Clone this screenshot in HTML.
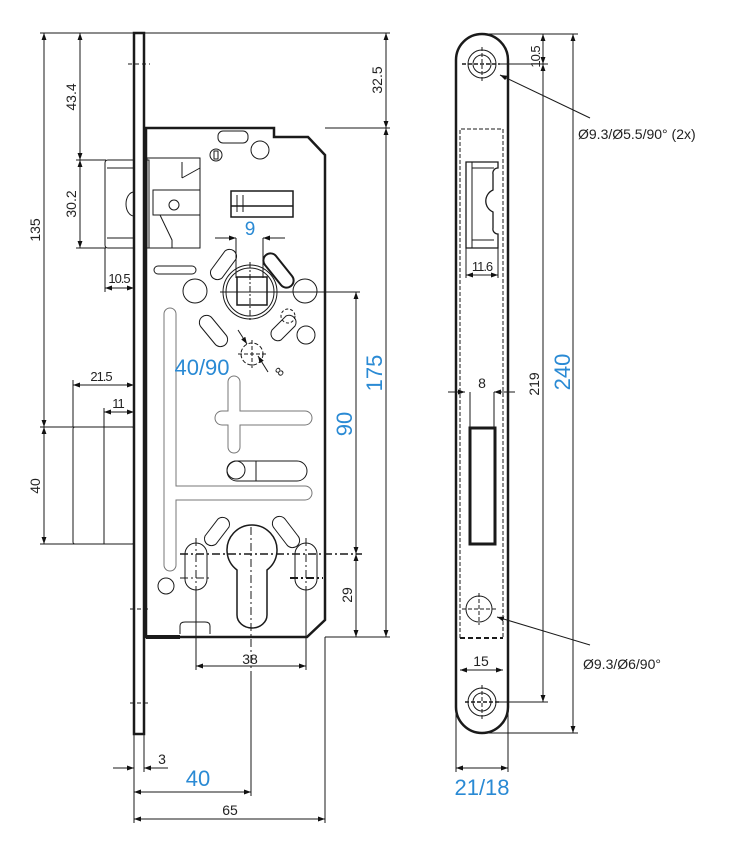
<!DOCTYPE html>
<html><head><meta charset="utf-8"><style>
html,body{margin:0;padding:0;background:#fff}
svg{display:block}
text{font-family:"Liberation Sans",sans-serif;fill:#222}
.b{fill:#2a8ad4}
</style></head><body>
<svg width="735" height="847" viewBox="0 0 735 847" xmlns="http://www.w3.org/2000/svg">
<defs>
<marker id="a" viewBox="0 0 10 10" refX="10" refY="5" markerWidth="7" markerHeight="7" orient="auto-start-reverse"><path d="M0,1.5 L10,5 L0,8.5z" fill="#111"/></marker>
</defs>
<g stroke="#1a1a1a" fill="none" stroke-width="1">
<line x1="40" y1="33" x2="390" y2="33"/>
<line x1="40" y1="427" x2="134" y2="427"/>
<line x1="40" y1="544" x2="134" y2="544"/>
<line x1="76" y1="160" x2="106" y2="160"/>
<line x1="76" y1="248" x2="106" y2="248"/>
<line x1="325" y1="128" x2="390" y2="128"/>
<line x1="325" y1="637" x2="390" y2="637"/>
<line x1="220" y1="292" x2="360" y2="292"/>
<line x1="105" y1="248" x2="105" y2="292"/>
<line x1="73" y1="380" x2="73" y2="427"/>
<line x1="104" y1="408" x2="104" y2="427"/>
<line x1="134" y1="734" x2="134" y2="823"/>
<line x1="144" y1="734" x2="144" y2="772"/>
<line x1="251" y1="673" x2="251" y2="796"/>
<line x1="325" y1="637" x2="325" y2="823"/>
<line x1="196" y1="590" x2="196" y2="670"/>
<line x1="306" y1="590" x2="306" y2="670"/>
<line x1="44" y1="33" x2="44" y2="427" marker-start="url(#a)" marker-end="url(#a)"/>
<line x1="44" y1="427" x2="44" y2="544" marker-start="url(#a)" marker-end="url(#a)"/>
<line x1="80" y1="33" x2="80" y2="160" marker-start="url(#a)" marker-end="url(#a)"/>
<line x1="80" y1="160" x2="80" y2="248" marker-start="url(#a)" marker-end="url(#a)"/>
<line x1="105" y1="288" x2="134" y2="288" marker-start="url(#a)" marker-end="url(#a)"/>
<line x1="73" y1="385" x2="134" y2="385" marker-start="url(#a)" marker-end="url(#a)"/>
<line x1="104" y1="412" x2="134" y2="412" marker-start="url(#a)" marker-end="url(#a)"/>
<line x1="386" y1="33" x2="386" y2="128" marker-start="url(#a)" marker-end="url(#a)"/>
<line x1="386" y1="128" x2="386" y2="637" marker-start="url(#a)" marker-end="url(#a)"/>
<line x1="356" y1="292" x2="356" y2="554" marker-start="url(#a)" marker-end="url(#a)"/>
<line x1="356" y1="554" x2="356" y2="637" marker-start="url(#a)" marker-end="url(#a)"/>
<line x1="196" y1="666" x2="306" y2="666" marker-start="url(#a)" marker-end="url(#a)"/>
<line x1="113" y1="768" x2="134" y2="768" marker-end="url(#a)"/>
<line x1="168" y1="768" x2="144" y2="768" marker-end="url(#a)"/>
<line x1="134" y1="792" x2="251" y2="792" marker-start="url(#a)" marker-end="url(#a)"/>
<line x1="134" y1="819" x2="325" y2="819" marker-start="url(#a)" marker-end="url(#a)"/>
<line x1="215" y1="238" x2="236" y2="238" marker-end="url(#a)"/>
<line x1="285" y1="238" x2="263" y2="238" marker-end="url(#a)"/>
<line x1="236" y1="238" x2="236" y2="278"/><line x1="263" y1="238" x2="263" y2="278"/>
<line x1="238" y1="330" x2="247" y2="344" marker-end="url(#a)"/>
<line x1="268" y1="372" x2="258" y2="356" marker-end="url(#a)"/>
<rect x="134" y="33" width="10" height="701" stroke-width="2.5"/>
<line x1="128" y1="64" x2="150" y2="64" stroke-dasharray="4,3"/>
<line x1="130" y1="609" x2="150" y2="609" stroke-dasharray="4,3"/>
<line x1="130" y1="703" x2="150" y2="703" stroke-dasharray="4,3"/>
<path d="M146,128 H274 V137 H308 L325,155 V620 L307,637 H146 Z" stroke-width="2.5"/>
<line x1="146" y1="637" x2="180" y2="637" stroke-width="4"/>
<path d="M105,163 q0,-3 3,-3 H134 V248 H108 q-3,0 -3,-3 Z"/>
<line x1="107" y1="168" x2="133" y2="168"/><line x1="107" y1="238" x2="133" y2="238"/>
<path d="M134,192 a8,12 0 0 0 0,24"/>
<rect x="147" y="158" width="53" height="90"/>
<rect x="145" y="160" width="4" height="88"/>
<path d="M182,178 L200,168 M182,178 V162"/>
<rect x="153" y="190" width="47" height="25"/>
<path d="M160,215 L172,240 V248"/>
<circle cx="174" cy="205" r="5"/>
<rect x="73" y="427" width="61" height="117" rx="2"/>
<line x1="104" y1="427" x2="104" y2="544"/>
<rect x="218" y="131" width="30" height="12" rx="5"/>
<circle cx="216" cy="155" r="6"/><rect x="214" y="151" width="4" height="8"/>
<circle cx="260" cy="150" r="9"/>
<rect x="231" y="191" width="62" height="26" stroke-width="1.5"/>
<line x1="231" y1="206" x2="293" y2="206" stroke-width="1.5"/>
<line x1="237" y1="195" x2="237" y2="212"/><line x1="243" y1="195" x2="243" y2="212"/>
<rect x="154" y="266" width="42" height="8" rx="4"/>
<circle cx="250" cy="292" r="27"/><circle cx="250" cy="292" r="24"/>
<rect x="237" y="277" width="30" height="28" stroke-width="1.5"/>
<line x1="250" y1="262" x2="250" y2="322" stroke-dasharray="6,2,2,2"/>
<circle cx="195" cy="291" r="12"/><circle cx="305" cy="291" r="12"/>
<circle cx="306" cy="335" r="9"/>
<circle cx="288" cy="316" r="7" stroke-dasharray="3,2"/>
<path d="M211,270 l14,-19 a7,7 0 0 1 11,8 l-14,19 a7,7 0 0 1 -11,-8z"/>
<path d="M276,256 l16,20 a7,7 0 0 1 -11,9 l-16,-20 a7,7 0 0 1 11,-9z" stroke-width="2"/>
<path d="M212,318 l14,17 a7,7 0 0 1 -11,9 l-14,-17 a7,7 0 0 1 11,-9z"/>
<path d="M272,330 l14,-14 a7,7 0 0 1 9,10 l-14,14 a7,7 0 0 1 -9,-10z"/>
<circle cx="252" cy="354" r="11" stroke-dasharray="4,2"/>
<line x1="238" y1="354" x2="266" y2="354" stroke-dasharray="4,2"/><line x1="252" y1="340" x2="252" y2="368" stroke-dasharray="4,2"/>
<path d="M170,308 a6,6 0 0 0 -6,6 V565 a6,6 0 0 0 12,0 V500 H305 a7,7 0 0 0 0,-14 H176 V314 a6,6 0 0 0 -6,-6z" stroke="#777"/>
<path d="M228,382 V411 H222 a6,6 0 0 0 0,14 H228 V447 a6,6 0 0 0 12,0 V425 H305 a7,7 0 0 0 0,-14 H240 V382 a6,6 0 0 0 -12,0z" stroke="#777"/>
<path d="M237,461 H297 a10,10 0 0 1 0,20 H237 a10,10 0 0 1 0,-20z"/>
<circle cx="236" cy="470" r="9"/><line x1="256" y1="461" x2="256" y2="481"/>
<path d="M205,536 l13,-17 a7,7 0 0 1 11,8 l-13,17 a7,7 0 0 1 -11,-8z"/>
<path d="M285,519 l13,17 a7,7 0 0 1 -11,9 l-13,-17 a7,7 0 0 1 11,-9z"/>
<circle cx="166" cy="586" r="8"/>
<rect x="185" y="543" width="22" height="47" rx="11"/>
<rect x="295" y="543" width="22" height="47" rx="11"/>
<path d="M237,570 A25,25 0 1 1 267,570 V615 A15,13 0 0 1 237,615 Z" stroke-width="1.5"/>
<line x1="180" y1="554" x2="362" y2="554" stroke-dasharray="8,3,2,3" stroke-width="1.5"/>
<line x1="180" y1="578" x2="212" y2="578" stroke-dasharray="8,3,2,3"/>
<line x1="290" y1="578" x2="323" y2="578" stroke-dasharray="8,3,2,3" stroke-width="2"/>
<line x1="251" y1="527" x2="251" y2="673" stroke-dasharray="8,3,2,3"/>
<line x1="196" y1="538" x2="196" y2="596" stroke-dasharray="8,3,2,3"/>
<line x1="306" y1="538" x2="306" y2="596" stroke-dasharray="8,3,2,3"/>
<path d="M180,634 V626 q0,-4 5,-4 H205 q5,0 5,4 V634"/>
<path d="M456,60 A26,26 0 0 1 508,60 V707 A26,26 0 0 1 456,707 Z" stroke-width="2.5"/>
<line x1="488" y1="34" x2="578" y2="34"/>
<line x1="500" y1="64" x2="548" y2="64"/>
<line x1="496" y1="702" x2="548" y2="702"/>
<line x1="482" y1="733" x2="578" y2="733"/>
<line x1="543" y1="34" x2="543" y2="64" marker-start="url(#a)" marker-end="url(#a)"/>
<line x1="543" y1="64" x2="543" y2="702" marker-start="url(#a)" marker-end="url(#a)"/>
<line x1="573" y1="34" x2="573" y2="733" marker-start="url(#a)" marker-end="url(#a)"/>
<circle cx="482" cy="64" r="14"/><circle cx="482" cy="64" r="9"/>
<line x1="462" y1="64" x2="500" y2="64" stroke-dasharray="4,2" stroke-width="1.5"/>
<line x1="482" y1="47" x2="482" y2="82" stroke-dasharray="4,2"/>
<circle cx="482" cy="702" r="14"/><circle cx="482" cy="702" r="9"/>
<line x1="465" y1="702" x2="500" y2="702" stroke-dasharray="4,2" stroke-width="1.5"/>
<line x1="482" y1="685" x2="482" y2="719" stroke-dasharray="4,2"/>
<circle cx="479" cy="609" r="13"/>
<line x1="462" y1="609" x2="496" y2="609" stroke-dasharray="4,2"/>
<line x1="479" y1="593" x2="479" y2="625" stroke-dasharray="4,2"/>
<path d="M460,638 V129 H503 V638" stroke-dasharray="4,2"/>
<line x1="460" y1="638" x2="503" y2="638" stroke-dasharray="5,3" stroke-width="2"/>
<path d="M466,162 H498 V168 a5,5 0 0 0 -5,6 V190 a12,12 0 0 0 0,22 V228 a5,5 0 0 0 5,6 V248 H466 Z" stroke-width="1.3"/>
<line x1="472" y1="162" x2="472" y2="248"/>
<line x1="472" y1="168" x2="494" y2="168"/><line x1="472" y1="240" x2="494" y2="240"/>
<line x1="466" y1="248" x2="466" y2="278"/><line x1="498" y1="248" x2="498" y2="278"/>
<line x1="466" y1="275" x2="498" y2="275" marker-start="url(#a)" marker-end="url(#a)"/>
<line x1="448" y1="392" x2="465" y2="392" marker-end="url(#a)"/>
<line x1="515" y1="392" x2="494" y2="392" marker-end="url(#a)"/>
<line x1="470" y1="392" x2="470" y2="427"/><line x1="494" y1="392" x2="494" y2="427"/>
<rect x="470" y="428" width="25" height="116" stroke-width="3"/>
<line x1="460" y1="670" x2="503" y2="670" marker-start="url(#a)" marker-end="url(#a)"/>
<line x1="456" y1="707" x2="456" y2="772"/><line x1="508" y1="707" x2="508" y2="772"/>
<line x1="456" y1="768" x2="508" y2="768" marker-start="url(#a)" marker-end="url(#a)"/>
<line x1="590" y1="118" x2="500" y2="75" marker-end="url(#a)"/>
<line x1="590" y1="645" x2="497" y2="617" marker-end="url(#a)"/>
</g>
<g font-size="14">
<text transform="translate(40,230) rotate(-90)" text-anchor="middle">135</text>
<text transform="translate(76,97) rotate(-90)" text-anchor="middle">43.4</text>
<text transform="translate(76,204) rotate(-90)" text-anchor="middle">30.2</text>
<text transform="translate(40,486) rotate(-90)" text-anchor="middle">40</text>
<text transform="translate(382,80) rotate(-90)" text-anchor="middle">32.5</text>
<text transform="translate(352,595) rotate(-90)" text-anchor="middle">29</text>
<text x="119" y="283" text-anchor="middle" font-size="13" letter-spacing="-1">10.5</text>
<text x="101" y="381" text-anchor="middle" font-size="13" letter-spacing="-1">21.5</text>
<text x="118" y="408" text-anchor="middle" font-size="13" letter-spacing="-1">11</text>
<text x="250" y="664" text-anchor="middle">38</text>
<text x="162" y="764" text-anchor="middle">3</text>
<text x="230" y="815" text-anchor="middle">65</text>
<text transform="translate(280,377) rotate(-45)" font-size="12">8</text>
<text transform="translate(540,57) rotate(-90)" text-anchor="middle" font-size="13" letter-spacing="-1">10.5</text>
<text transform="translate(539,384) rotate(-90)" text-anchor="middle">219</text>
<text x="482" y="271" text-anchor="middle" font-size="13" letter-spacing="-1">11.6</text>
<text x="482" y="388" text-anchor="middle">8</text>
<text x="481" y="666" text-anchor="middle">15</text>
<text x="578" y="139">Ø9.3/Ø5.5/90° (2x)</text>
<text x="583" y="669">Ø9.3/Ø6/90°</text>
</g>
<g font-size="22">
<text class="b" x="250" y="235" text-anchor="middle" font-size="19">9</text>
<text class="b" x="202" y="375" text-anchor="middle">40/90</text>
<text class="b" transform="translate(382,373) rotate(-90)" text-anchor="middle">175</text>
<text class="b" transform="translate(352,424) rotate(-90)" text-anchor="middle">90</text>
<text class="b" x="198" y="786" text-anchor="middle">40</text>
<text class="b" transform="translate(570,372) rotate(-90)" text-anchor="middle">240</text>
<text class="b" x="482" y="795" text-anchor="middle">21/18</text>
</g>
</svg>
</body></html>
